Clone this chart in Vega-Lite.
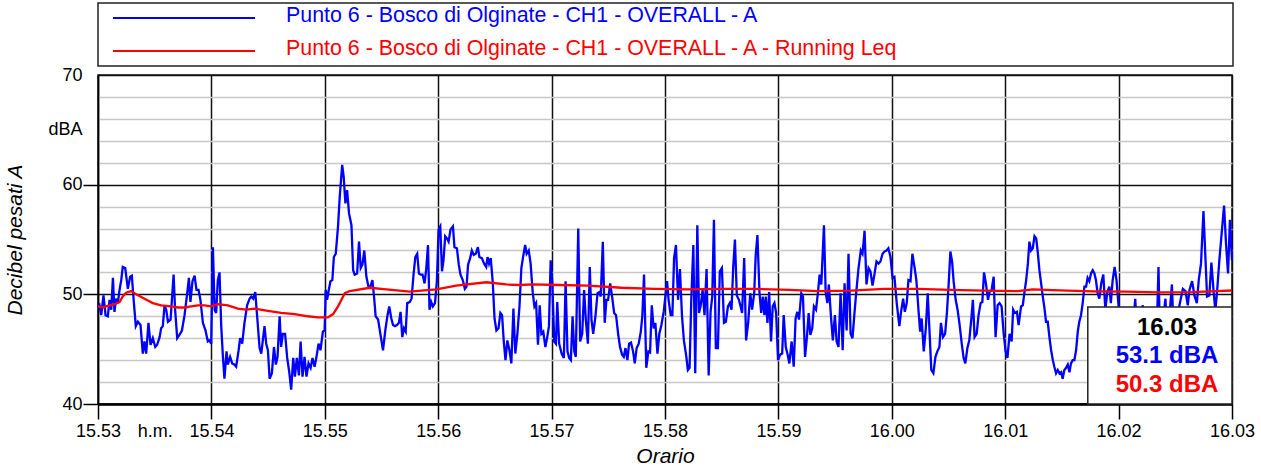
{
  "$schema": "https://vega.github.io/schema/vega-lite/v6.json",
  "width": 1134,
  "height": 329,
  "autosize": {"type": "none"},
  "padding": {"left": 98, "top": 75, "right": 29, "bottom": 66},
  "background": "white",
  "datasets": {
    "a": [
      {"s":0,"db":48.8},{"s":0.8,"db":49.0},{"s":1.7,"db":48.1},{"s":2.9,"db":49.9},{"s":4.0,"db":48.1},{"s":5.2,"db":48.0},{"s":6.1,"db":49.5},{"s":7.0,"db":48.6},{"s":7.9,"db":51.5},{"s":8.7,"db":48.4},{"s":9.6,"db":49.6},{"s":10.5,"db":49.2},{"s":11.4,"db":50.4},{"s":12.3,"db":51.3},{"s":13.1,"db":52.5},{"s":14.4,"db":52.4},{"s":15.8,"db":50.5},{"s":17.0,"db":51.6},{"s":17.9,"db":51.7},{"s":19.0,"db":49.2},{"s":20.0,"db":47.1},{"s":21.1,"db":47.5},{"s":22.5,"db":47.2},{"s":23.7,"db":44.6},{"s":24.6,"db":45.7},{"s":25.5,"db":44.6},{"s":26.7,"db":47.4},{"s":27.8,"db":45.4},{"s":29.0,"db":46.0},{"s":30.3,"db":45.2},{"s":31.3,"db":45.4},{"s":32.6,"db":46.1},{"s":33.4,"db":46.9},{"s":34.3,"db":47.1},{"s":35.2,"db":49.0},{"s":36.1,"db":48.6},{"s":37.0,"db":47.5},{"s":38.4,"db":47.7},{"s":40.0,"db":51.8},{"s":40.8,"db":48.6},{"s":41.9,"db":46.0},{"s":43.1,"db":46.3},{"s":44.4,"db":46.7},{"s":45.8,"db":48.1},{"s":47.2,"db":50.1},{"s":48.1,"db":51.5},{"s":48.9,"db":49.3},{"s":50.0,"db":51.2},{"s":51.1,"db":51.7},{"s":52.1,"db":50.4},{"s":53.2,"db":50.4},{"s":54.2,"db":49.5},{"s":55.5,"db":47.4},{"s":56.9,"db":46.7},{"s":58.1,"db":45.7},{"s":59.0,"db":45.8},{"s":59.9,"db":45.5},{"s":60.8,"db":54.3},{"s":61.7,"db":48.6},{"s":62.5,"db":48.3},{"s":63.4,"db":51.3},{"s":64.3,"db":52.0},{"s":65.2,"db":47.1},{"s":66.1,"db":44.3},{"s":66.9,"db":42.3},{"s":68.0,"db":44.8},{"s":68.7,"db":43.6},{"s":69.9,"db":44.3},{"s":71.0,"db":43.7},{"s":72.1,"db":43.6},{"s":73.1,"db":43.4},{"s":74.4,"db":44.9},{"s":75.2,"db":46.0},{"s":76.3,"db":45.5},{"s":77.5,"db":47.4},{"s":78.9,"db":49.0},{"s":80.2,"db":49.6},{"s":81.1,"db":49.8},{"s":82.1,"db":49.6},{"s":83.2,"db":50.2},{"s":84.2,"db":48.0},{"s":85.5,"db":45.1},{"s":86.4,"db":44.6},{"s":87.2,"db":45.8},{"s":88.1,"db":47.1},{"s":89.0,"db":45.5},{"s":89.9,"db":44.9},{"s":90.8,"db":42.3},{"s":92.0,"db":42.8},{"s":93.1,"db":45.2},{"s":94.1,"db":43.6},{"s":95.0,"db":44.3},{"s":96.1,"db":48.0},{"s":96.9,"db":45.2},{"s":97.8,"db":46.4},{"s":99.0,"db":46.4},{"s":100.1,"db":44.2},{"s":101.2,"db":42.9},{"s":102.2,"db":41.3},{"s":103.3,"db":44.2},{"s":104.2,"db":42.5},{"s":105.2,"db":44.2},{"s":106.3,"db":42.6},{"s":107.2,"db":45.7},{"s":108.2,"db":42.5},{"s":109.3,"db":44.3},{"s":110.3,"db":42.5},{"s":111.4,"db":43.7},{"s":112.5,"db":43.3},{"s":113.5,"db":44.2},{"s":114.6,"db":43.4},{"s":115.6,"db":44.3},{"s":116.7,"db":45.5},{"s":117.7,"db":44.9},{"s":119.0,"db":46.6},{"s":119.9,"db":46.7},
      {"s":120.5,"db":50.4},{"s":121.2,"db":49.5},{"s":122.1,"db":50.4},{"s":123.0,"db":51.2},{"s":124.0,"db":51.3},{"s":124.8,"db":53.4},{"s":125.8,"db":53.7},{"s":127.0,"db":56.2},{"s":127.9,"db":58.9},{"s":129.2,"db":61.8},{"s":130.0,"db":60.7},{"s":130.9,"db":58.3},{"s":131.8,"db":59.5},{"s":132.8,"db":57.4},{"s":134.1,"db":56.3},{"s":135.0,"db":52.2},{"s":135.8,"db":51.8},{"s":137.1,"db":51.9},{"s":138.1,"db":54.8},{"s":139.0,"db":52.4},{"s":139.9,"db":52.7},{"s":140.9,"db":54.0},{"s":142.0,"db":51.6},{"s":143.1,"db":50.7},{"s":144.1,"db":50.7},{"s":145.2,"db":51.3},{"s":146.2,"db":49.5},{"s":146.9,"db":48.0},{"s":148.2,"db":47.7},{"s":149.4,"db":46.4},{"s":150.8,"db":44.9},{"s":152.0,"db":46.7},{"s":153.1,"db":48.0},{"s":154.1,"db":48.9},{"s":155.2,"db":47.8},{"s":156.1,"db":47.2},{"s":157.1,"db":47.1},{"s":158.2,"db":47.2},{"s":159.2,"db":47.4},{"s":160.1,"db":48.4},{"s":161.0,"db":46.1},{"s":161.9,"db":46.9},{"s":162.8,"db":46.6},{"s":163.6,"db":49.2},{"s":164.9,"db":49.3},{"s":165.9,"db":49.6},{"s":167.0,"db":51.9},{"s":167.9,"db":53.4},{"s":168.9,"db":53.7},{"s":169.8,"db":51.9},{"s":170.7,"db":51.8},{"s":171.7,"db":51.8},{"s":172.8,"db":51.0},{"s":173.7,"db":52.4},{"s":174.6,"db":54.5},{"s":175.4,"db":48.6},{"s":176.3,"db":49.3},{"s":177.2,"db":48.9},{"s":178.3,"db":49.2},{"s":179.3,"db":51.2},{"s":180.2,"db":55.9},{"s":181.1,"db":56.2},{"s":182.0,"db":52.1},{"s":182.8,"db":53.1},{"s":183.7,"db":55.3},{"s":184.6,"db":55.1},{"s":185.5,"db":54.8},{"s":186.5,"db":55.9},{"s":187.8,"db":56.2},{"s":188.6,"db":54.3},{"s":189.9,"db":54.2},{"s":190.9,"db":52.7},{"s":191.8,"db":51.8},{"s":193.0,"db":51.3},{"s":194.1,"db":50.5},{"s":195.0,"db":50.7},{"s":195.8,"db":52.7},{"s":196.9,"db":53.3},{"s":197.8,"db":54.0},{"s":198.8,"db":53.6},{"s":199.9,"db":53.7},{"s":201.0,"db":54.3},{"s":201.8,"db":53.4},{"s":203.1,"db":53.3},{"s":204.3,"db":52.8},{"s":205.4,"db":52.5},{"s":206.1,"db":53.4},{"s":206.9,"db":52.8},{"s":207.8,"db":53.3},{"s":208.9,"db":51.0},{"s":209.8,"db":47.8},{"s":210.8,"db":46.7},{"s":211.9,"db":46.9},{"s":212.9,"db":48.3},{"s":213.8,"db":48.1},{"s":214.7,"db":45.7},{"s":215.6,"db":44.0},{"s":216.6,"db":45.8},{"s":217.7,"db":44.9},{"s":218.7,"db":43.7},{"s":219.8,"db":48.7},{"s":220.8,"db":44.6},{"s":221.9,"db":46.4},{"s":223.0,"db":48.9},{"s":224.0,"db":52.4},{"s":225.1,"db":53.6},{"s":226.0,"db":54.5},{"s":226.8,"db":53.7},{"s":227.9,"db":54.0},{"s":228.9,"db":52.8},{"s":230.0,"db":50.2},{"s":230.9,"db":48.9},{"s":231.8,"db":49.2},{"s":232.8,"db":45.4},{"s":233.7,"db":49.0},{"s":234.6,"db":46.4},{"s":235.6,"db":46.6},{"s":236.7,"db":45.2},{"s":237.7,"db":46.1},{"s":238.6,"db":47.1},{"s":239.5,"db":53.1},{"s":240.4,"db":51.0},{"s":241.4,"db":45.7},{"s":242.3,"db":45.5},{"s":243.0,"db":49.3},
      {"s":244.0,"db":45.5},{"s":245.3,"db":44.6},{"s":246.5,"db":44.2},{"s":247.4,"db":51.2},{"s":248.4,"db":44.8},{"s":249.3,"db":44.2},{"s":250.2,"db":44.0},{"s":251.1,"db":48.0},{"s":252.0,"db":44.8},{"s":252.8,"db":44.3},{"s":254.1,"db":56.0},{"s":255.1,"db":45.7},{"s":256.2,"db":46.4},{"s":257.2,"db":50.4},{"s":258.1,"db":47.7},{"s":259.2,"db":45.5},{"s":260.2,"db":52.5},{"s":261.1,"db":47.7},{"s":262.0,"db":46.4},{"s":263.2,"db":48.0},{"s":264.3,"db":50.1},{"s":265.2,"db":50.2},{"s":266.0,"db":49.8},{"s":267.1,"db":54.8},{"s":268.1,"db":47.4},{"s":269.0,"db":49.5},{"s":269.9,"db":49.5},{"s":271.0,"db":51.0},{"s":272.0,"db":49.8},{"s":273.1,"db":48.3},{"s":274.1,"db":48.1},{"s":275.2,"db":46.4},{"s":276.2,"db":45.2},{"s":277.3,"db":44.5},{"s":278.2,"db":44.3},{"s":279.1,"db":45.1},{"s":280.1,"db":44.0},{"s":281.0,"db":45.5},{"s":282.0,"db":45.6},{"s":283.1,"db":44.8},{"s":284.0,"db":43.7},{"s":285.0,"db":45.1},{"s":286.1,"db":45.5},{"s":287.2,"db":46.6},{"s":288.0,"db":48.0},{"s":288.9,"db":51.8},{"s":290.1,"db":43.3},{"s":291.2,"db":44.8},{"s":292.1,"db":44.7},{"s":293.0,"db":49.0},{"s":294.0,"db":46.9},{"s":294.9,"db":47.4},{"s":296.0,"db":44.6},{"s":297.0,"db":46.4},{"s":298.1,"db":47.2},{"s":299.3,"db":48.4},{"s":300.4,"db":50.1},{"s":301.1,"db":51.2},{"s":301.9,"db":49.5},{"s":303.0,"db":48.1},{"s":303.9,"db":48.1},{"s":304.8,"db":53.3},{"s":305.8,"db":54.5},{"s":306.9,"db":49.5},{"s":307.9,"db":52.3},{"s":309.0,"db":48.0},{"s":310.0,"db":45.8},{"s":311.3,"db":44.3},{"s":312.1,"db":43.1},{"s":313.0,"db":43.3},{"s":313.9,"db":49.5},{"s":315.0,"db":54.5},{"s":316.0,"db":42.8},{"s":317.1,"db":56.3},{"s":318.0,"db":48.3},{"s":318.8,"db":48.9},{"s":319.9,"db":50.4},{"s":320.9,"db":48.1},{"s":322.0,"db":52.3},{"s":323.1,"db":42.6},{"s":324.1,"db":48.4},{"s":325.0,"db":49.8},{"s":325.9,"db":56.8},{"s":326.9,"db":45.1},{"s":328.0,"db":45.1},{"s":329.0,"db":52.1},{"s":330.1,"db":52.4},{"s":331.2,"db":47.4},{"s":332.2,"db":47.5},{"s":333.3,"db":48.9},{"s":334.3,"db":49.2},{"s":335.2,"db":48.6},{"s":336.1,"db":52.5},{"s":337.0,"db":55.0},{"s":338.0,"db":49.9},{"s":339.1,"db":49.5},{"s":340.0,"db":48.9},{"s":340.8,"db":48.3},{"s":341.9,"db":53.3},{"s":342.9,"db":45.8},{"s":344.0,"db":47.4},{"s":345.1,"db":50.1},{"s":346.1,"db":48.6},{"s":347.2,"db":50.1},{"s":348.0,"db":53.6},{"s":348.9,"db":55.4},{"s":350.0,"db":50.1},{"s":350.9,"db":48.3},{"s":351.7,"db":49.8},{"s":352.6,"db":48.1},{"s":353.3,"db":49.8},{"s":354.2,"db":47.4},{"s":355.1,"db":50.2},{"s":356.1,"db":45.7},{"s":357.0,"db":48.9},{"s":357.9,"db":49.2},{"s":358.8,"db":48.3},{"s":359.8,"db":44.0},{"s":360.9,"db":44.5},{"s":362.0,"db":44.6},{"s":362.8,"db":48.1},{"s":363.9,"db":45.2},{"s":364.9,"db":44.5},{"s":365.8,"db":43.7},
      {"s":367.0,"db":45.7},{"s":368.1,"db":43.4},{"s":369.1,"db":47.8},{"s":370.0,"db":48.4},{"s":370.9,"db":47.7},{"s":372.1,"db":50.1},{"s":373.0,"db":49.8},{"s":374.1,"db":44.3},{"s":375.1,"db":46.1},{"s":376.0,"db":48.3},{"s":376.9,"db":46.3},{"s":377.9,"db":46.9},{"s":378.8,"db":48.9},{"s":379.9,"db":48.6},{"s":380.9,"db":50.1},{"s":381.8,"db":51.8},{"s":382.7,"db":50.9},{"s":384.1,"db":56.3},{"s":385.0,"db":50.2},{"s":385.9,"db":49.2},{"s":386.7,"db":50.9},{"s":387.8,"db":48.0},{"s":388.8,"db":45.8},{"s":389.9,"db":48.1},{"s":390.8,"db":45.7},{"s":391.8,"db":45.2},{"s":392.9,"db":50.1},{"s":394.0,"db":44.9},{"s":395.0,"db":51.0},{"s":396.1,"db":46.7},{"s":397.1,"db":53.7},{"s":398.2,"db":46.4},{"s":399.2,"db":46.0},{"s":400.3,"db":48.4},{"s":401.3,"db":50.4},{"s":402.4,"db":52.4},{"s":403.6,"db":54.0},{"s":404.5,"db":53.7},{"s":405.6,"db":55.8},{"s":406.6,"db":50.9},{"s":407.7,"db":52.4},{"s":408.7,"db":52.1},{"s":409.8,"db":50.8},{"s":410.8,"db":51.8},{"s":411.9,"db":53.0},{"s":413.0,"db":52.8},{"s":414.0,"db":53.0},{"s":415.1,"db":53.7},{"s":416.1,"db":53.9},{"s":417.2,"db":54.0},{"s":418.2,"db":54.2},{"s":419.3,"db":53.4},{"s":420.4,"db":51.5},{"s":421.4,"db":51.6},{"s":422.6,"db":49.2},{"s":424.0,"db":47.1},{"s":424.9,"db":48.4},{"s":426.0,"db":49.6},{"s":426.9,"db":48.4},{"s":427.9,"db":49.2},{"s":428.8,"db":51.3},{"s":429.9,"db":51.2},{"s":430.9,"db":53.7},{"s":432.0,"db":52.5},{"s":433.0,"db":51.3},{"s":434.1,"db":48.6},{"s":435.0,"db":46.6},{"s":435.8,"db":47.8},{"s":436.9,"db":44.8},{"s":438.0,"db":46.9},{"s":439.0,"db":50.1},{"s":440.1,"db":46.1},{"s":440.9,"db":43.1},{"s":442.0,"db":42.8},{"s":443.1,"db":44.3},{"s":444.1,"db":44.8},{"s":445.2,"db":45.2},{"s":446.0,"db":47.4},{"s":447.1,"db":46.1},{"s":448.2,"db":46.4},{"s":449.2,"db":48.4},{"s":450.1,"db":51.0},{"s":451.0,"db":53.9},{"s":451.9,"db":53.0},{"s":452.7,"db":51.2},{"s":453.8,"db":49.5},{"s":454.8,"db":48.6},{"s":455.9,"db":47.2},{"s":457.0,"db":45.5},{"s":458.0,"db":44.2},{"s":458.9,"db":43.7},{"s":460.0,"db":45.1},{"s":461.0,"db":45.8},{"s":462.1,"db":47.8},{"s":462.9,"db":49.5},{"s":463.8,"db":46.1},{"s":464.9,"db":46.4},{"s":465.9,"db":48.1},{"s":467.0,"db":49.2},{"s":467.9,"db":49.3},{"s":468.8,"db":52.0},{"s":469.8,"db":51.0},{"s":470.9,"db":49.5},{"s":471.7,"db":50.2},{"s":472.8,"db":50.4},{"s":473.9,"db":51.6},{"s":474.9,"db":46.1},{"s":476.0,"db":49.0},{"s":477.0,"db":49.2},{"s":478.1,"db":48.9},{"s":479.1,"db":46.6},{"s":480.2,"db":44.8},{"s":481.2,"db":44.2},{"s":482.3,"db":46.4},{"s":483.4,"db":45.7},{"s":484.2,"db":48.6},{"s":485.1,"db":48.3},{"s":486.2,"db":48.4},{"s":487.1,"db":47.2},
      {"s":488.4,"db":48.9},{"s":489.3,"db":49.0},{"s":490.2,"db":50.2},{"s":491.1,"db":51.3},{"s":492.0,"db":52.8},{"s":492.8,"db":54.8},{"s":493.7,"db":54.0},{"s":494.6,"db":54.2},{"s":495.5,"db":55.3},{"s":496.4,"db":55.1},{"s":497.2,"db":53.9},{"s":498.1,"db":52.2},{"s":499.0,"db":51.0},{"s":499.9,"db":49.8},{"s":500.8,"db":48.7},{"s":501.6,"db":47.5},{"s":502.5,"db":47.5},{"s":503.4,"db":46.1},{"s":504.3,"db":44.9},{"s":505.2,"db":44.0},{"s":506.0,"db":43.4},{"s":506.9,"db":42.8},{"s":507.8,"db":43.1},{"s":508.7,"db":42.8},{"s":509.6,"db":42.9},{"s":510.4,"db":42.3},{"s":511.3,"db":43.1},{"s":512.2,"db":43.3},{"s":513.1,"db":43.6},{"s":514.0,"db":42.9},{"s":514.8,"db":43.7},{"s":515.7,"db":44.0},{"s":516.6,"db":44.0},{"s":517.5,"db":44.9},{"s":518.4,"db":46.6},{"s":519.2,"db":47.5},{"s":520.1,"db":48.1},{"s":521.0,"db":49.2},{"s":521.9,"db":50.7},{"s":522.8,"db":50.7},{"s":523.6,"db":51.5},{"s":524.5,"db":51.2},{"s":525.4,"db":51.9},{"s":526.3,"db":52.2},{"s":527.2,"db":51.9},{"s":528.0,"db":51.3},{"s":528.9,"db":50.1},{"s":529.8,"db":49.6},{"s":530.8,"db":51.0},{"s":531.9,"db":51.8},{"s":533.0,"db":48.6},{"s":534.0,"db":50.2},{"s":535.1,"db":50.7},{"s":535.9,"db":49.2},{"s":536.8,"db":51.2},{"s":537.9,"db":52.5},{"s":538.9,"db":51.3},{"s":540.0,"db":48.9},
      {"s":540.5,"db":47.0},{"s":542.3,"db":45.5},{"s":544.0,"db":47.5},{"s":545.8,"db":46.0},{"s":547.6,"db":47.0},{"s":548.8,"db":49.6},{"s":549.7,"db":46.5},{"s":551.1,"db":47.5},{"s":552.8,"db":49.0},{"s":553.9,"db":46.5},{"s":555.5,"db":47.0},{"s":557.2,"db":45.8},{"s":559.0,"db":47.2},{"s":560.2,"db":46.5},{"s":561.1,"db":52.5},{"s":561.8,"db":46.8},{"s":563.4,"db":47.5},{"s":564.8,"db":49.6},{"s":565.5,"db":47.0},{"s":566.9,"db":48.0},{"s":568.2,"db":50.9},{"s":569.0,"db":47.2},{"s":570.8,"db":47.5},{"s":572.2,"db":49.0},{"s":574.0,"db":50.5},{"s":575.4,"db":50.3},{"s":576.6,"db":49.0},{"s":577.5,"db":50.4},{"s":578.9,"db":51.2},{"s":580.1,"db":49.9},{"s":581.4,"db":49.2},{"s":582.4,"db":51.3},{"s":583.6,"db":52.8},{"s":584.9,"db":57.6},{"s":586.0,"db":53.1},{"s":586.8,"db":49.8},{"s":588.0,"db":49.9},{"s":589.1,"db":52.9},{"s":590.2,"db":50.4},{"s":591.2,"db":48.5},{"s":592.3,"db":50.7},{"s":593.3,"db":53.1},{"s":594.7,"db":55.9},{"s":595.8,"db":58.1},{"s":596.8,"db":54.7},{"s":597.9,"db":51.9},{"s":598.9,"db":56.8},{"s":600.0,"db":53.1}
    ],
    "leq": [
      {"s":0,"db":48.9},{"s":2.6,"db":48.8},{"s":4.3,"db":48.9},{"s":6.1,"db":49.0},{"s":8.7,"db":49.1},{"s":11.4,"db":49.3},{"s":13.1,"db":49.8},{"s":14.9,"db":50.15},{"s":17.6,"db":50.3},{"s":20.2,"db":50.0},{"s":24.6,"db":49.6},{"s":29,"db":49.2},{"s":33.4,"db":49.0},{"s":38.7,"db":48.9},{"s":42.3,"db":48.8},{"s":45.8,"db":48.8},{"s":49.3,"db":48.9},{"s":52.8,"db":49.0},{"s":56.4,"db":49.0},{"s":59.9,"db":48.9},{"s":63.4,"db":49.1},{"s":68.7,"db":49.0},{"s":74,"db":48.7},{"s":78.4,"db":48.6},{"s":82.8,"db":48.7},{"s":89.9,"db":48.5},{"s":96.9,"db":48.3},{"s":104,"db":48.2},{"s":111,"db":48.0},{"s":116.3,"db":47.9},{"s":121.6,"db":47.9},{"s":124.4,"db":48.2},{"s":127,"db":48.9},{"s":128.8,"db":49.5},{"s":130.6,"db":50.1},{"s":133.2,"db":50.3},{"s":143.8,"db":50.6},{"s":152.6,"db":50.45},{"s":164.9,"db":50.25},{"s":179,"db":50.45},{"s":189.5,"db":50.8},{"s":205.4,"db":51.1},{"s":216,"db":50.9},{"s":223,"db":50.85},{"s":230,"db":50.9},{"s":244,"db":50.85},{"s":259.3,"db":50.8},{"s":277,"db":50.6},{"s":294.5,"db":50.5},{"s":312,"db":50.45},{"s":329.7,"db":50.5},{"s":347.3,"db":50.5},{"s":365.8,"db":50.4},{"s":381,"db":50.3},{"s":398.5,"db":50.33},{"s":416,"db":50.5},{"s":433.7,"db":50.5},{"s":451.3,"db":50.4},{"s":469,"db":50.33},{"s":486.5,"db":50.3},{"s":494.6,"db":50.45},{"s":508.7,"db":50.36},{"s":526.3,"db":50.27},{"s":543.9,"db":50.24},{"s":561.5,"db":50.18},{"s":579,"db":50.2},{"s":591.4,"db":50.3},{"s":600,"db":50.35}
    ],
    "readout": [{"time": "16.03", "a": "53.1 dBA", "leq": "50.3 dBA"}]
  },
  "encoding": {
    "x": {
      "type": "quantitative",
      "scale": {"domain": [0, 600], "nice": false, "zero": false},
      "axis": {
        "title": "Orario",
        "values": [0, 30, 60, 120, 180, 240, 300, 360, 420, 480, 540, 600],
        "labelExpr": "datum.value == 30 ? 'h.m.' : (datum.value < 420 ? '15.' + (53 + datum.value / 60) : '16.0' + (datum.value / 60 - 7))",
        "tickOpacity": {"condition": {"test": "datum.value == 30", "value": 0}, "value": 1},
        "gridOpacity": {"condition": {"test": "datum.value == 30", "value": 0}, "value": 1},
        "gridColor": "#111111",
        "gridWidth": 1.5,
        "domainWidth": 2.5,
        "labelPadding": 3,
        "titlePadding": 5
      }
    },
    "y": {
      "type": "quantitative",
      "scale": {"domain": [40, 70], "nice": false, "zero": false},
      "axis": {
        "title": "Decibel pesati A",
        "values": [40, 42, 44, 46, 48, 50, 52, 54, 56, 58, 60, 62, 64, 65, 66, 68, 70],
        "labelExpr": "datum.value % 10 == 0 ? datum.label : (datum.value == 65 ? 'dBA' : '')",
        "tickOpacity": {"condition": {"test": "datum.value % 10 == 0 && datum.value < 70", "value": 1}, "value": 0},
        "gridColor": {"condition": {"test": "datum.value % 10 == 0", "value": "#111111"}, "value": "#c8c8c8"},
        "gridOpacity": {"condition": {"test": "datum.value == 65", "value": 0}, "value": 1},
        "gridWidth": 1.3,
        "domainWidth": 1.5,
        "labelPadding": 1,
        "titlePadding": 22
      }
    }
  },
  "layer": [
    {
      "data": {"name": "a"},
      "mark": {"type": "line", "strokeWidth": 2.3, "interpolate": "linear"},
      "encoding": {
        "x": {"field": "s", "type": "quantitative"},
        "y": {"field": "db", "type": "quantitative"},
        "color": {
          "datum": "Punto 6 - Bosco di Olginate - CH1 - OVERALL - A",
          "type": "nominal",
          "scale": {
            "domain": ["Punto 6 - Bosco di Olginate - CH1 - OVERALL - A", "Punto 6 - Bosco di Olginate - CH1 - OVERALL - A - Running Leq"],
            "range": ["#0000ff", "#ff0000"]
          },
          "legend": {
            "orient": "none",
            "legendX": 0,
            "legendY": -72,
            "title": "\u00a0",
            "titleOrient": "right",
            "titlePadding": 328,
            "titleFontSize": 1,
            "symbolType": "stroke",
            "symbolSize": 20164,
            "symbolStrokeWidth": 2,
            "symbolOffset": 8,
            "labelOffset": 30,
            "labelFont": "Liberation Sans",
            "labelFontSize": 21.4,
            "labelLimit": 2000,
            "clipHeight": 18,
            "rowPadding": 10,
            "padding": 6,
            "strokeColor": "#222222",
            "encode": {
              "labels": {"update": {"fill": {"scale": "color", "field": "value"}, "dy": {"value": -2.5}}},
              "legend": {"update": {"strokeWidth": {"value": 1.5}}}
            }
          }
        }
      }
    },
    {
      "data": {"name": "leq"},
      "mark": {"type": "line", "strokeWidth": 2.3},
      "encoding": {
        "x": {"field": "s", "type": "quantitative"},
        "y": {"field": "db", "type": "quantitative"},
        "color": {"datum": "Punto 6 - Bosco di Olginate - CH1 - OVERALL - A - Running Leq", "type": "nominal"}
      }
    },
    {
      "data": {"name": "readout"},
      "mark": {"type": "rect", "fill": "white", "stroke": "#222222", "strokeWidth": 1.5},
      "encoding": {
        "x": {"datum": 523.7, "type": "quantitative"},
        "x2": {"datum": 600},
        "y": {"datum": 40, "type": "quantitative"},
        "y2": {"datum": 48.85}
      }
    },
    {
      "data": {"name": "readout"},
      "mark": {"type": "text", "font": "Liberation Sans", "fontSize": 24, "fontWeight": "bold", "align": "center", "baseline": "middle", "color": "#000000"},
      "encoding": {
        "x": {"datum": 565.6, "type": "quantitative"},
        "y": {"datum": 46.94, "type": "quantitative"},
        "text": {"field": "time"}
      }
    },
    {
      "data": {"name": "readout"},
      "mark": {"type": "text", "font": "Liberation Sans", "fontSize": 24, "fontWeight": "bold", "align": "center", "baseline": "middle", "color": "#0000ff"},
      "encoding": {
        "x": {"datum": 565.6, "type": "quantitative"},
        "y": {"datum": 44.34, "type": "quantitative"},
        "text": {"field": "a"}
      }
    },
    {
      "data": {"name": "readout"},
      "mark": {"type": "text", "font": "Liberation Sans", "fontSize": 24, "fontWeight": "bold", "align": "center", "baseline": "middle", "color": "#ff0000"},
      "encoding": {
        "x": {"datum": 565.6, "type": "quantitative"},
        "y": {"datum": 41.74, "type": "quantitative"},
        "text": {"field": "leq"}
      }
    }
  ],
  "config": {
    "font": "Liberation Sans",
    "view": {"stroke": "#111111", "strokeWidth": 1.5},
    "axis": {
      "labelFont": "Liberation Sans",
      "labelFontSize": 18,
      "labelColor": "#000000",
      "titleFont": "Liberation Sans",
      "titleFontSize": 21,
      "titleFontStyle": "italic",
      "titleFontWeight": "normal",
      "titleColor": "#000000",
      "domainColor": "#000000",
      "tickColor": "#000000",
      "tickSize": 15,
      "tickWidth": 1.5,
      "labelOverlap": false,
      "labelFlush": false
    }
  }
}
